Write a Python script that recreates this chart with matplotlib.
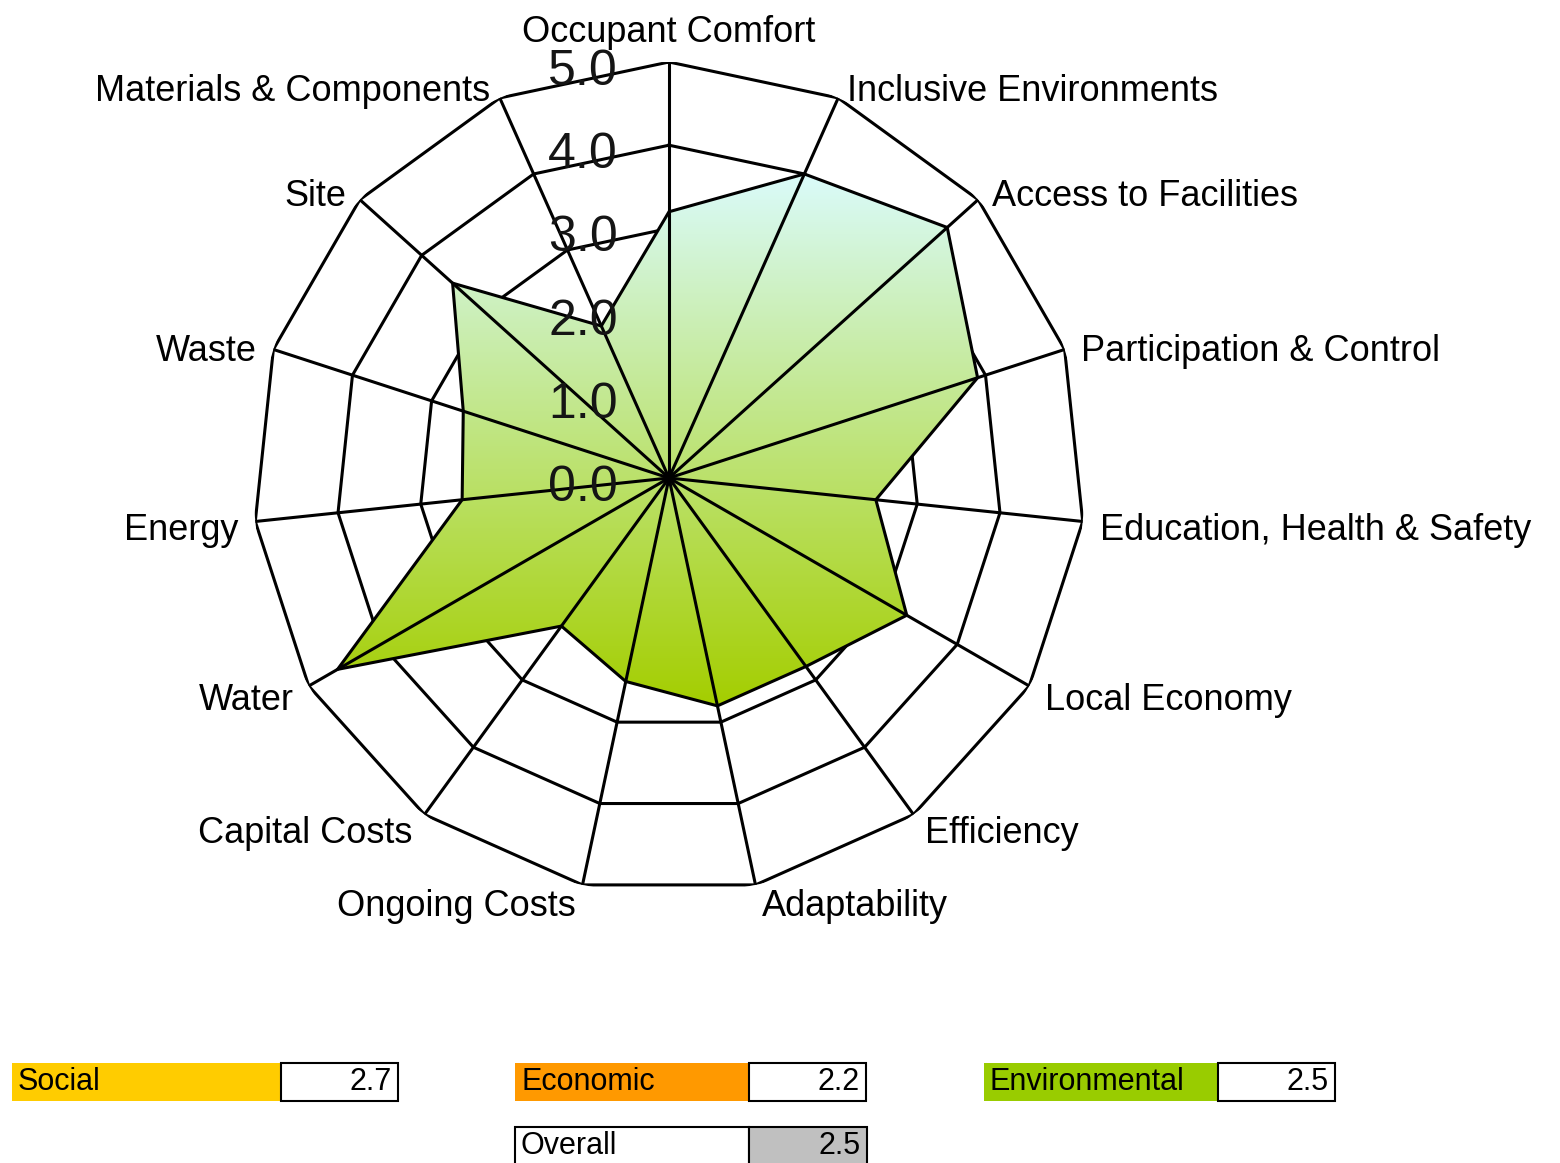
import numpy as np
import matplotlib
matplotlib.use('Agg')
import matplotlib.pyplot as plt
from matplotlib.patches import Rectangle
from matplotlib.transforms import ScaledTranslation

plt.rcParams['font.family'] = ['Liberation Sans', 'DejaVu Sans']

# scores per criterion, clockwise from the top
categories = ['Occupant Comfort', 'Inclusive Environments', 'Access to Facilities',
              'Participation & Control', 'Education, Health & Safety', 'Local Economy',
              'Efficiency', 'Adaptability', 'Ongoing Costs', 'Capital Costs', 'Water',
              'Energy', 'Waste', 'Site', 'Materials & Components']
scores = [3.2, 4.0, 4.5, 3.9, 2.5, 3.3, 2.8, 2.8, 2.5, 2.2, 4.6, 2.5, 2.6, 3.5, 2.0]
ring_levels = [0, 1, 2, 3, 4, 5]
ring_labels = ['0.0', '1.0', '2.0', '3.0', '4.0', '5.0']

# summary boxes
group_names = ['Social', 'Economic', 'Environmental']
group_scores = [2.7, 2.2, 2.5]
overall_score = 2.5

group_colors = ['#FFCC00', '#FF9900', '#99CC00']
W, H = 1560, 1163
cx, cy, R = 669, 478, 416
LW = 2.2

fig = plt.figure(figsize=(W / 100, H / 100), dpi=100)
rect = [(cx - R) / W, (H - cy - R) / H, 2 * R / W, 2 * R / H]


def radar_axes(z):
    a = fig.add_axes(rect, projection='polar', zorder=z)
    a.patch.set_visible(False)
    a.set_theta_offset(np.pi / 2)
    a.set_theta_direction(-1)
    a.set_ylim(0, 5)
    a.grid(False)
    a.spines['polar'].set_visible(False)
    a.set_xticks([])
    a.set_yticks([])
    return a


# bottom: rings, middle: gradient + boxes, top: spokes, outline, text
ring_ax = radar_axes(0)
bg = fig.add_axes([0, 0, 1, 1], zorder=1)
bg.axis('off')
ax = radar_axes(2)

n = len(categories)
angles = np.arange(n) * 2 * np.pi / n
closed_a = np.append(angles, angles[0])
closed_s = scores + scores[:1]

for lev in ring_levels[1:]:
    ring_ax.plot(closed_a, [lev] * (n + 1), color='black', lw=LW)
for a in angles:
    ax.plot([a, a], [0, ring_levels[-1]], color='black', lw=LW, zorder=3)

poly = ax.fill(closed_a, closed_s, facecolor='none', edgecolor='black', lw=LW, zorder=4)[0]

# ring value labels just left of the top spoke
for lev, lab in zip(ring_levels, ring_labels):
    tr = ax.transData + ScaledTranslation(-0.86, -0.10, fig.dpi_scale_trans)
    ax.text(0, lev, lab, transform=tr, ha='center', va='center', fontsize=36,
            color='#151515', zorder=5)

# category labels
for a, name in zip(angles, categories):
    phi = np.pi / 2 - a
    c, s = np.cos(phi), np.sin(phi)
    if abs(c) < 1e-6:
        ha, dx, dy = 'center', 0, -30
    else:
        ha = 'left' if c > 0 else 'right'
        dx = np.sign(c) * (4 + 13 * abs(c))
        dy = 7 - 15 * s
    tr = ax.transData + ScaledTranslation(dx / 100, -dy / 100, fig.dpi_scale_trans)
    ax.text(a, ring_levels[-1], name, transform=tr, ha=ha, va='center', fontsize=26)

# gradient fill clipped to the score polygon
fig.canvas.draw()
pts = ax.transData.transform(np.column_stack([closed_a, closed_s]))
x0, x1 = pts[:, 0].min(), pts[:, 0].max()
ytop, ybot = H - pts[:, 1].max(), H - pts[:, 1].min()
top = np.array([0xDA, 0xFB, 0xFA]) / 255
bottom = np.array([0xA4, 0xCE, 0x00]) / 255
g = np.linspace(0, 1, 256)[:, None, None]
img = top * (1 - g) + bottom * g
im = bg.imshow(img, extent=(x0, x1, ybot, ytop), aspect='auto', origin='upper',
               interpolation='bilinear')
im.set_clip_path(poly)

# summary boxes
box_x = [12, 515, 984]
name_w = [269, 234, 234]
val_w = 117
by, bh = 1063, 38
for x, w, name, val, col in zip(box_x, name_w, group_names, group_scores, group_colors):
    bg.add_patch(Rectangle((x, by), w, bh, facecolor=col, edgecolor='none'))
    bg.add_patch(Rectangle((x + w, by), val_w, bh, facecolor='white', edgecolor='black', lw=1.5))
    bg.text(x + 6, by + bh / 2, name, ha='left', va='center', fontsize=22)
    bg.text(x + w + val_w - 6, by + bh / 2, f'{val:.1f}', ha='right', va='center', fontsize=22)

oy = 1127
bg.add_patch(Rectangle((515, oy), 234, 40, facecolor='white', edgecolor='black', lw=1.5))
bg.add_patch(Rectangle((749, oy), 118, 40, facecolor='#C0C0C0', edgecolor='black', lw=1.5))
bg.text(521, oy + 19, 'Overall', ha='left', va='center', fontsize=22)
bg.text(861, oy + 19, f'{overall_score:.1f}', ha='right', va='center', fontsize=22)

bg.set_xlim(0, W)
bg.set_ylim(H, 0)

fig.savefig('out.png', dpi=100)
